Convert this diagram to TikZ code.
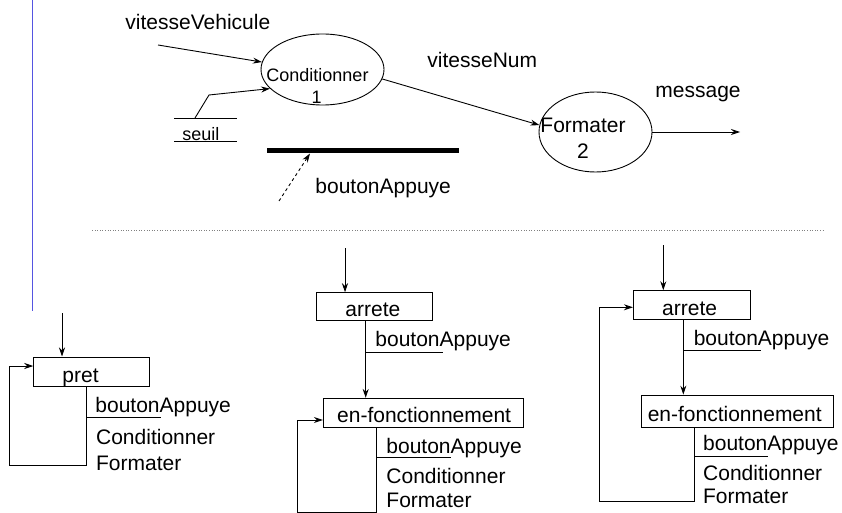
\documentclass[tikz,border=0pt]{standalone}
\usepackage{fontspec}
\setmainfont{Liberation Sans}
\usetikzlibrary{arrows.meta,shapes.geometric}
\begin{document}
\begin{tikzpicture}[x=1pt,y=-1pt,
  line width=0.9pt,
  arr/.style={-{Stealth[length=9pt,width=6pt,inset=3pt]}},
  txt/.style={anchor=base west,inner sep=0pt,font=\fontsize{21}{25}\selectfont},
  smalltxt/.style={anchor=base west,inner sep=0pt,font=\fontsize{18}{21}\selectfont},
  process/.style={draw,ellipse,inner sep=0pt},
  statebox/.style={draw,rectangle,inner sep=0pt},
  sep/.style={draw=gray,dotted,line width=0.6pt}]
\useasboundingbox (0,0) rectangle (842,513);

% margin rule
\draw[draw={rgb,255:red,85;green,85;blue,225},line width=1pt] (32.3,0) -- (32.3,310.7);

% ---------------- data flow diagram ----------------
\node[process,minimum width=123pt,minimum height=71pt] (cond) at (322.5,69.5) {};
\node[smalltxt] (condname) at (266,82) {Conditionner};
\node[smalltxt,anchor=base] (condnum) at (316.7,104) {1};

\node[process,minimum width=113pt,minimum height=80pt] (form) at (595.5,132) {};
\node[txt] (formname) at (540,133) {Formater};
\node[txt,anchor=base] (formnum) at (583,159) {2};

% incoming flow vitesseVehicule
\node[txt] (vvlab) at (125,30) {vitesseVehicule};
\coordinate (vvsrc) at (158,45);
\draw[arr] (vvsrc) -- (cond.173);

% data store seuil
\node[smalltxt] (seuil) at (182,141) {seuil};
\draw (174,118) -- (237,118);
\draw (174,141.7) -- (237,141.7);
\coordinate (seuilout) at (195,118);
\coordinate (seuilbend) at (209,95);
\draw[arr] (seuilout) -- (seuilbend) -- (cond.200);

% flow vitesseNum
\node[txt] (vnlab) at (427,68) {vitesseNum};
\draw[arr] (cond.-9) -- (form.173);

% outgoing flow message
\node[txt] (msglab) at (655,98) {message};
\coordinate (msgend) at (740,132);
\draw[arr] (form.east) -- (msgend);

% control bar and event
\coordinate (barl) at (267,150.7);
\coordinate (barr) at (459,150.7);
\draw[line width=5pt] (barl) -- (barr);
\coordinate (evsrc) at (279,201);
\coordinate (evdst) at (310,153.5);
\draw[arr,dashed] (evsrc) -- (evdst);
\node[txt] (evlab) at (315,193) {boutonAppuye};

% separator
\draw[sep] (92,230) -- (825,230);

% ---------------- state machine 1 ----------------
\node[statebox,minimum width=116pt,minimum height=29.7pt] (pret) at (91.7,371.8) {};
\node[txt] (pretname) at (62,382.7) {pret};
\coordinate (in1) at (62,313);
\draw[arr] (in1) -- (in1 |- pret.north);
\coordinate (t1) at (86,465);
\coordinate (t1l) at (9.3,366);
\draw[arr] (pret.south -| t1) -- (t1) -| (t1l) -- (pret.west |- t1l);
\draw (86,417.7) -- (161,417.7);
\node[txt] (ev1) at (95,412.7) {boutonAppuye};
\node[txt] (a1) at (95.7,444) {Conditionner};
\node[txt] (b1) at (95.7,470) {Formater};

% ---------------- state machine 2 ----------------
\node[statebox,minimum width=116.7pt,minimum height=28pt] (arr2) at (374.3,306.7) {};
\node[txt] (arr2name) at (345,316.7) {arrete};
\node[statebox,minimum width=200pt,minimum height=29pt] (enf2) at (423.3,412.8) {};
\node[txt] (enf2name) at (336.7,422.7) {en-fonctionnement};
\coordinate (in2) at (345,248);
\draw[arr] (in2) -- (in2 |- arr2.north);
\coordinate (t2) at (365.7,350);
\draw[arr] (arr2.south -| t2) -- (enf2.north -| t2);
\draw (365.7,352.3) -- (443.3,352.3);
\node[txt] (ev2a) at (375,346) {boutonAppuye};
\coordinate (t3) at (376.7,512.7);
\coordinate (t3l) at (297.3,420);
\draw[arr] (enf2.south -| t3) -- (t3) -| (t3l) -- (enf2.west |- t3l);
\draw (376.7,457.3) -- (450.7,457.3);
\node[txt] (ev2b) at (386,453.3) {boutonAppuye};
\node[txt] (a2) at (386,483.3) {Conditionner};
\node[txt] (b2) at (386,507.3) {Formater};

% ---------------- state machine 3 ----------------
\node[statebox,minimum width=116.7pt,minimum height=28.6pt] (arr3) at (691.7,305) {};
\node[txt] (arr3name) at (661.7,315) {arrete};
\node[statebox,minimum width=192.3pt,minimum height=32.3pt] (enf3) at (737.2,411.2) {};
\node[txt] (enf3name) at (647.3,421.7) {en-fonctionnement};
\coordinate (in3) at (663.3,245);
\draw[arr] (in3) -- (in3 |- arr3.north);
\coordinate (t4) at (683.3,350);
\draw[arr] (arr3.south -| t4) -- (enf3.north -| t4);
\draw (683.3,350) -- (760.7,350);
\node[txt] (ev3a) at (693.3,345) {boutonAppuye};
\coordinate (t5) at (694.3,501.7);
\coordinate (t5l) at (599.3,307.3);
\draw[arr] (enf3.south -| t5) -- (t5) -| (t5l) -- (arr3.west |- t5l);
\draw (694.3,456.7) -- (768.3,456.7);
\node[txt] (ev3b) at (702.7,450.7) {boutonAppuye};
\node[txt] (a3) at (702.7,480) {Conditionner};
\node[txt] (b3) at (702.7,503.3) {Formater};
\end{tikzpicture}
\end{document}
